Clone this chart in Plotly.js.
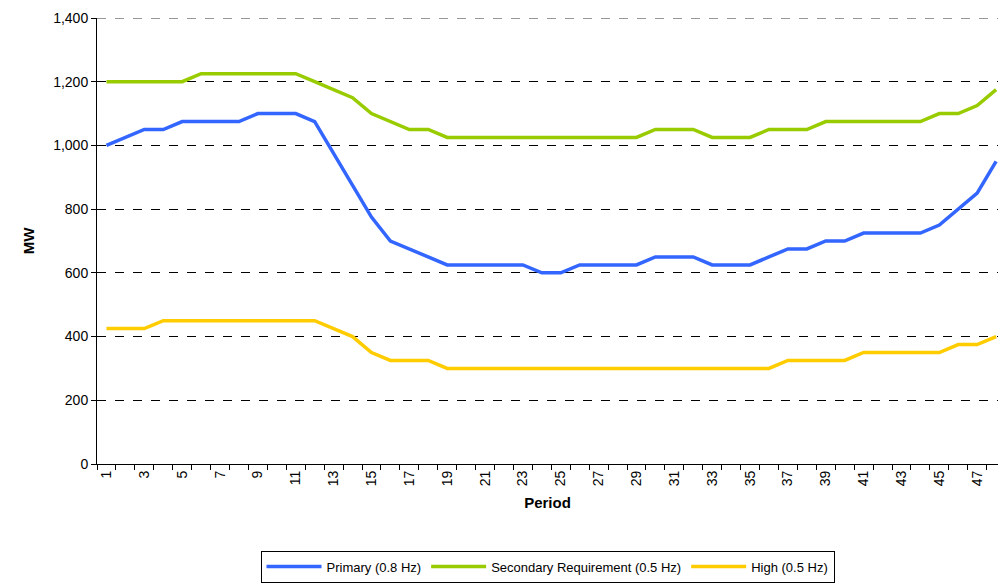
<!DOCTYPE html>
<html>
<head>
<meta charset="utf-8">
<script src="https://cdn.plot.ly/plotly-3.0.1.min.js"></script>
<style>body{margin:0;background:#fff}#chart{width:999px;height:583px}</style>
</head>
<body>
<div id="chart"></div>
<script>
const periods = Array.from({length: 48}, (_, i) => i + 1);
const primary = [1000,1025,1050,1050,1075,1075,1075,1075,1100,1100,1100,1075,975,875,775,700,675,650,625,625,625,625,625,600,
	600,625,625,625,625,650,650,650,625,625,625,650,675,675,700,700,725,725,725,725,750,800,850,950];
const secondary = [1200,1200,1200,1200,1200,1225,1225,1225,1225,1225,1225,1200,1175,1150,1100,1075,1050,1050,1025,1025,1025,1025,1025,1025,
	1025,1025,1025,1025,1025,1050,1050,1050,1025,1025,1025,1050,1050,1050,1075,1075,1075,1075,1075,1075,1100,1100,1125,1175];
const high = [425,425,425,450,450,450,450,450,450,450,450,450,425,400,350,325,325,325,300,300,300,300,300,300,
	300,300,300,300,300,300,300,300,300,300,300,300,325,325,325,325,350,350,350,350,350,375,375,400];
const labelTicks = periods.filter(p => p % 2 === 1);
const yTicks = [0, 200, 400, 600, 800, 1000, 1200, 1400];

const font = {family: "Liberation Sans, Arial, sans-serif", size: 14, color: "#000"};

function series(name, y, color) {
	return {x: periods, y, name, type: "scatter", mode: "lines", line: {color, width: 3.5}};
}

const traces = [
	series("Primary (0.8 Hz)", primary, "#3366FF"),
	series("Secondary Requirement (0.5 Hz)", secondary, "#99CC00"),
	series("High (0.5 Hz)", high, "#FFCC00"),
];

const layout = {
	width: 999, height: 583,
	margin: {l: 97, r: 1, t: 18, b: 119},
	paper_bgcolor: "#fff", plot_bgcolor: "#fff",
	font,
	showlegend: true,
	legend: {orientation: "h", x: 0.5, xanchor: "center", y: -0.23, yanchor: "middle",
		bordercolor: "#000", borderwidth: 1, font: {...font, size: 13}, itemwidth: 55},
	// top gridline at the range edge
	shapes: [{type: "line", xref: "paper", x0: 0, x1: 1, yref: "y", y0: yTicks[yTicks.length - 1], y1: yTicks[yTicks.length - 1],
		line: {color: "#777", width: 1.5, dash: "dash"}}],
	xaxis: {
		range: [0.5, 48.1], tickvals: labelTicks, ticktext: labelTicks.map(String),
		tickangle: -90, ticks: "", showgrid: false, zeroline: false,
		showline: true, linecolor: "#000", linewidth: 1,
		minor: {tick0: 0.5, dtick: 1, ticks: "outside", ticklen: 5, tickcolor: "#000", showgrid: false},
		title: {text: "Period", font: {...font, size: 15, weight: "bold"}, standoff: 12},
	},
	yaxis: {
		range: [0, 1400], tickvals: yTicks, tickformat: ",d",
		showgrid: true, gridcolor: "#000", griddash: "dash", gridwidth: 1,
		zeroline: false, showline: true, linecolor: "#000", linewidth: 1,
		ticks: "outside", ticklen: 5, tickcolor: "#000",
		title: {text: "MW", font: {...font, size: 15, weight: "bold"}, standoff: 14},
	},
};

Plotly.newPlot("chart", traces, layout, {displayModeBar: false, staticPlot: true});
</script>
</body>
</html>
